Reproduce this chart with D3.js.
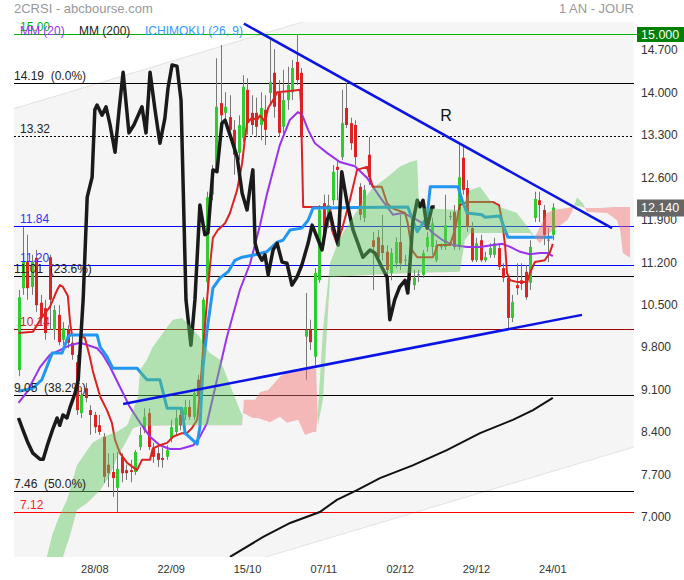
<!DOCTYPE html>
<html><head><meta charset="utf-8">
<script src="https://cdn.jsdelivr.net/npm/d3@7"></script>
<style>
body{margin:0;background:#fff}
svg{display:block;font-family:"Liberation Sans",Arial,Helvetica,sans-serif}
text{white-space:pre}
</style>
</head><body>
<svg id="chart" width="684" height="580"></svg>
<script>
// ---------------- DATA ----------------
const dateLabels = ["28/08","22/09","15/10","07/11","02/12","29/12","24/01"];
const dateIndex  = [17, 34, 51, 68, 85, 102, 119];

const open = [9.46,10.81,11.24,10.83,11.31,10.57,10.48,11.32,10.12,10.37,
9.96,10.12,9.91,9.59,8.75,9.16,8.80,8.72,8.55,8.36,
7.90,7.78,7.52,8.03,7.81,7.81,7.78,8.19,8.47,8.75,
8.18,8.09,8.01,8.03,8.34,8.44,8.72,8.72,8.85,8.69,
9.30,9.58,10.91,12.35,12.76,13.86,13.70,13.63,13.42,13.04,
13.29,14.08,13.70,13.70,13.50,13.75,14.03,14.36,14.03,13.47,
13.91,14.04,14.54,14.36,10.01,10.12,9.68,10.94,12.21,11.90,
12.26,12.81,12.97,13.78,13.53,13.50,12.48,11.97,13.01,11.60,
11.65,11.52,11.41,11.06,11.22,11.57,11.27,11.22,10.86,11.03,
11.03,11.49,11.49,11.27,11.49,11.49,12.00,12.07,11.49,12.96,
12.46,11.80,11.27,11.60,11.27,11.36,11.36,11.47,11.14,10.98,
10.32,10.86,10.94,11.08,10.90,11.97,12.26,12.10,11.60,11.69];
const high = [10.78,11.82,11.69,11.36,11.44,10.70,10.62,11.36,10.53,10.53,
10.25,10.20,10.04,9.71,9.13,9.25,8.88,8.77,8.72,8.42,
8.09,8.09,8.11,8.09,7.90,7.98,8.14,8.52,8.83,8.83,
8.26,8.19,8.18,8.22,8.64,8.80,8.83,8.97,8.97,9.16,
9.38,10.66,12.40,12.84,14.60,14.82,14.04,13.99,13.58,13.66,
14.32,14.27,13.99,13.95,14.04,13.99,14.90,14.75,14.24,14.41,
14.46,14.57,15.00,14.44,10.73,10.29,11.14,12.18,12.35,12.35,
12.84,12.92,14.08,14.19,13.62,13.58,12.54,12.51,13.30,11.74,
11.77,12.02,11.52,11.47,11.65,12.02,11.36,11.36,11.11,11.11,
11.44,11.74,11.97,11.60,11.55,12.35,12.07,12.18,13.17,13.17,
12.59,11.90,11.64,11.69,11.41,11.55,11.64,11.55,11.22,11.03,
10.70,11.22,11.22,11.19,11.60,12.40,12.40,12.18,11.80,12.21];
const low = [9.36,10.70,10.62,10.70,10.42,10.20,9.96,10.12,9.96,9.87,
9.87,9.82,9.63,8.72,8.67,8.93,8.39,8.42,8.39,7.60,
7.53,7.37,7.12,7.61,7.65,7.61,7.73,8.14,8.42,8.14,
7.93,7.86,7.85,7.98,8.27,8.39,8.47,8.64,8.64,8.64,
9.00,9.43,10.62,12.26,12.73,13.50,13.58,13.25,12.68,12.92,
13.22,13.34,13.34,13.30,13.25,13.17,13.83,13.62,13.30,13.34,
13.75,13.91,14.16,13.25,9.30,9.79,9.54,10.90,11.52,11.80,
12.18,12.26,12.92,13.45,13.09,12.84,11.93,11.90,12.51,10.78,
11.24,11.27,11.03,10.94,11.14,11.11,11.19,10.78,10.78,10.91,
10.98,11.41,11.36,11.24,11.44,11.44,11.93,11.44,11.44,12.35,
11.74,11.24,11.24,11.24,11.24,11.31,11.31,11.11,10.91,10.15,
10.25,10.70,10.78,10.62,10.78,11.90,11.90,11.52,11.24,11.60];
const close = [10.66,11.24,10.81,11.24,10.53,10.32,10.07,10.62,10.45,9.92,
10.15,9.91,9.71,8.80,9.05,9.00,8.72,8.52,8.44,7.70,
7.76,7.68,7.83,7.76,7.76,7.78,8.11,8.39,8.69,8.19,
8.03,7.98,7.98,8.14,8.52,8.67,8.55,8.85,8.69,9.08,
9.05,10.62,12.31,12.73,13.80,13.66,13.80,13.42,13.01,13.50,
14.13,13.53,13.50,13.47,13.78,13.42,14.21,13.80,13.37,13.91,
14.16,14.44,14.24,13.30,10.12,9.92,11.06,12.10,11.65,12.18,
12.73,12.76,13.53,13.50,13.20,12.97,12.02,12.43,12.64,11.49,
11.32,11.39,11.11,11.39,11.57,11.22,11.28,10.94,10.98,11.04,
11.39,11.65,11.88,11.52,11.50,11.85,12.00,11.49,12.64,12.43,
11.82,11.27,11.55,11.27,11.32,11.47,11.55,11.16,10.98,10.32,
10.58,10.81,10.88,10.66,11.49,12.28,12.18,11.69,11.61,12.14];

// indicator lines: [candle index, value]
const mm20 = [[0,8.92],[1.9,9.10],[4.8,9.51],[7,9.71],[9.2,9.79],[11.5,9.87],[13.7,9.91],[15.5,9.87],[17.5,9.82],[18.8,9.71],[20.4,9.51],[22.6,9.18],[24.8,8.85],[27.1,8.59],[29.3,8.36],[31.5,8.22],[33.7,8.16],[36,8.16],[38.9,8.22],[40.4,8.36],[42,8.59],[44.2,9.30],[46.4,10.00],[49.3,10.78],[51.6,11.22],[53.8,11.85],[55.3,12.35],[58.2,13.17],[60.4,13.58],[62.2,13.71],[63.1,13.68],[64.5,13.42],[66,13.20],[68.7,13.04],[71.6,12.89],[74.9,12.82],[77.6,12.63],[80.5,12.31],[83.4,12.02],[85.6,12.05],[87.9,11.97],[90.1,11.88],[92.3,11.72],[94.5,11.60],[96.8,11.52],[99.9,11.49],[102.8,11.49],[105.7,11.52],[107.7,11.54],[109.5,11.49],[111.7,11.41],[113.9,11.37],[116.1,11.39],[117.7,11.39],[119,11.34]];
const mm200 = [[47.1,6.38],[54.5,6.71],[60.5,6.94],[67.1,7.12],[70.9,7.32],[75.4,7.48],[80.5,7.68],[87.8,7.89],[95.4,8.14],[102.8,8.42],[110.1,8.64],[114.6,8.80],[119,9.00]];
const tenkan = [[0,10.07],[3.2,10.09],[5.2,10.33],[7,10.50],[8.6,10.78],[9.2,10.86],[9.9,10.83],[11,10.68],[11.5,10.24],[11.9,10.04],[13.7,10.04],[14.8,9.99],[15.9,9.67],[16.6,9.43],[18.2,9.02],[19.7,8.80],[20.8,8.59],[21.5,8.31],[22.6,8.09],[24.2,7.93],[26.4,7.81],[27.5,7.98],[29.3,7.98],[29.9,8.17],[31.5,8.22],[33.1,8.26],[34.4,8.36],[36.4,8.42],[37.5,8.42],[38.6,8.50],[39.8,8.64],[40.4,9.08],[41.1,9.79],[42,10.62],[42.7,11.22],[43.3,11.64],[44.4,11.77],[46,11.88],[47.1,12.05],[48.7,12.43],[49.8,12.87],[50.4,13.25],[50.9,13.53],[52,13.62],[53.1,13.58],[53.8,13.66],[54.9,13.55],[55.6,13.78],[56.7,13.91],[57.6,14.04],[60.5,14.06],[62.7,14.08],[62.9,13.86],[63.4,12.15],[69.4,12.15],[69.8,11.77],[70.9,11.55],[72,11.77],[73.8,12.26],[75.4,12.76],[77.6,12.81],[78.3,12.63],[78.9,12.48],[80.9,12.48],[82.1,12.21],[83.2,12.13],[86.1,12.05],[86.7,11.88],[87.6,11.44],[88.8,11.32],[92.3,11.32],[93.4,11.52],[96.1,11.52],[97.2,11.77],[98.3,12.18],[99.9,12.23],[105.7,12.23],[107,12.18],[107.7,11.93],[108.4,11.49],[108.8,11.06],[109.5,10.94],[111.2,10.91],[113.3,10.91],[113.9,11.06],[115,11.24],[117.2,11.27],[118.3,11.39],[119,11.54]];
const kijun = [[0,9.11],[3.2,9.16],[5.2,9.30],[7.5,9.74],[9.7,9.74],[11,10.00],[11.5,10.04],[17.5,10.04],[18.2,9.84],[19.7,9.68],[21,9.49],[26.4,9.49],[28.6,9.30],[31.5,9.30],[33.1,8.83],[36.4,8.83],[37.1,8.42],[39.8,8.24],[40.4,8.52],[41.1,9.51],[42,10.12],[43.3,10.81],[44.9,10.98],[46.7,11.08],[48.2,11.27],[49.8,11.32],[52.7,11.36],[55.3,11.41],[57.6,11.57],[58.9,11.60],[60.5,11.77],[63.1,11.80],[64.5,11.93],[65.6,12.13],[86.7,12.15],[88.8,11.74],[91,11.98],[91.7,12.48],[97.9,12.48],[98.8,12.26],[99.9,12.05],[103.2,12.02],[103.9,11.98],[107.2,12.00],[109,11.65],[119,11.65]];
const chikou = [[0,8.67],[1,8.47],[2.1,8.26],[3.2,8.09],[4.8,7.99],[5.5,7.99],[6.6,8.26],[7.7,8.50],[8.6,8.67],[9.2,8.55],[9.9,8.72],[10.8,8.67],[11.5,8.85],[12.6,9.08],[13.3,9.30],[14.4,10.62],[15.3,12.31],[16.4,12.64],[17,13.75],[17.5,13.83],[18.6,13.66],[19.5,13.80],[20.4,13.50],[21.5,13.05],[22.4,13.75],[23.3,14.37],[24.6,13.37],[25.7,13.50],[27.5,13.80],[28.4,13.37],[29.3,14.37],[30.4,13.75],[31.5,13.20],[32.6,13.61],[33.3,14.11],[34.2,14.49],[35.3,14.47],[36.2,13.91],[37.3,10.62],[38.4,9.87],[39.3,10.62],[40.4,12.18],[41.5,11.69],[42.2,11.72],[43.3,12.76],[44.2,12.73],[45.3,13.53],[46,13.58],[47.5,13.25],[48.7,12.97],[49.8,12.38],[50.9,12.10],[51.6,12.48],[52.2,12.76],[52.7,11.55],[53.3,11.39],[54.2,11.27],[54.9,11.36],[55.6,11.03],[56.7,11.44],[57.6,11.55],[58.7,11.24],[59.8,11.22],[60.9,10.86],[62,10.99],[63.1,11.19],[64.5,11.55],[65.4,11.85],[66.5,11.65],[67.6,11.44],[68.7,11.93],[69.4,12.05],[70,11.85],[71.2,11.52],[72,12.73],[73.2,12.21],[74.5,11.77],[75.6,11.55],[76.7,11.32],[78.3,11.44],[79.4,11.39],[80.9,11.16],[82.1,10.99],[82.7,10.29],[83.8,10.62],[84.9,10.83],[86.1,10.94],[86.7,10.73],[87.2,11.22],[87.8,11.88],[88.8,12.26],[89.4,12.15],[90.1,12.26],[91,11.80],[92.1,12.15],[92.7,12.15]];
const senkouA = [[4.8,5.83],[6.3,6.38],[7.5,6.74],[9.2,7.07],[10.8,7.32],[13,7.89],[15.3,8.14],[16.6,8.27],[18.8,8.36],[21.9,8.44],[24.2,8.55],[25.5,8.80],[26.6,9.02],[27.1,9.46],[28.6,9.63],[29.9,9.84],[31.5,10.00],[33.1,10.17],[34.4,10.29],[36.4,10.32],[37.5,10.24],[40.4,10.00],[41.1,9.91],[42.6,9.74],[44.9,9.63],[46.4,9.35],[47.8,9.08],[49.3,8.80],[49.8,8.72],[50.2,8.75],[52.2,8.67],[53.3,8.67],[56,8.60],[58.2,8.69],[59.8,8.59],[62.3,8.64],[63.8,8.39],[65.6,8.44],[66.3,8.44],[66.7,8.80],[67.8,10.12],[69.4,11.22],[71.6,11.65],[74.5,11.98],[76.7,12.26],[78.9,12.46],[82.1,12.64],[84.9,12.81],[87.2,12.89],[88.8,12.92],[89.2,12.13],[98.3,12.10],[100.6,12.43],[102.8,12.48],[105,12.26],[107.2,12.15],[111,12.05],[113.9,11.77],[115,11.65],[116.1,11.55],[117.7,11.69],[122.2,11.93],[123.3,12.07],[124.4,12.31],[125.7,12.21],[126.6,12.07],[131.1,12.05],[133.3,11.93],[134,11.77],[134.6,11.39],[136.2,11.31]];
const senkouB = [[4.8,5.34],[9.9,6.38],[11.5,6.74],[13,7.15],[15.3,7.27],[18.2,7.48],[20.4,7.73],[21.9,8.01],[24.2,8.31],[25.5,8.50],[27.1,8.54],[37.5,8.55],[49.8,8.55],[50.2,8.97],[52.7,8.97],[53.8,9.10],[55.6,9.13],[58.2,9.35],[60.5,9.46],[66.3,9.49],[66.7,8.55],[67.8,8.97],[69.4,10.99],[78.9,11.03],[87.9,11.06],[98.3,11.08],[99.4,11.60],[100.6,11.72],[113.9,11.72],[115,11.65],[116.1,11.82],[117.7,12.05],[119,12.10],[122.2,12.13],[124.4,12.17],[126.6,12.13],[129.5,12.13],[132.4,12.15],[136.2,12.15]];

// horizontal levels
const levelValues = [15.00, 14.19, 13.32, 11.84, 11.20, 11.01, 10.14, 9.05, 7.46, 7.12];
const levelLabels = ["15.00", "14.19  (0.0%)", "13.32", "11.84", "11.20", "11.01  (23.6%)", "10.14", "9.05  (38.2%)", "7.46  (50.0%)", "7.12"];
// trend lines and channel [index, value]
const trendUpper = [[50.2,15.17],[132.2,11.80]];
const trendLower = [[23.3,8.90],[125.5,10.37]];
const channelUpper = [[-1,13.77],[137,16.84]];
const channelLower = [[-1,5.14],[137,8.19]];
const yTickValues = [7.0,7.7,8.4,9.1,9.8,10.5,11.2,11.9,12.6,13.3,14.0,14.7];
const lastPrice = 12.14;
const topLevel = 15.00;

// ---------------- DRAW ----------------
const svg = d3.select("#chart");
const L = 14, R = 634, T = 22, B = 557;
const X = d3.scaleLinear().domain([0,119]).range([18.5,552.8]);
const Y = d3.scaleLinear().domain([7,15]).range([519.3,34]);

svg.append("rect").attr("width",684).attr("height",580).attr("fill","#fff");
const defs = svg.append("defs");
defs.append("clipPath").attr("id","plot").append("rect").attr("x",L).attr("y",T).attr("width",R-L).attr("height",B-T);

const g = svg.append("g").attr("clip-path","url(#plot)");
const line = d3.line().x(d=>X(d[0])).y(d=>Y(d[1]));

// channel
const chPoly = channelLower.concat(channelUpper.slice().reverse());
g.append("path").attr("d", line(chPoly)+"Z").attr("fill","#f5f5f5");
[channelUpper, channelLower].forEach(c=>g.append("path").attr("d",line(c)).attr("stroke","#e2e2e2").attr("stroke-width",1).attr("fill","none"));

// level lines
const levelStyle = {
  "15.00":["#00b400",null,"#00b400",20], "14.19  (0.0%)":["#000",null,"#222",14], "13.32":["#000","2,2","#222",20],
  "11.84":["#0000ff",null,"#3333ff",20], "11.20":["#0000ff",null,"#3333ff",20], "11.01  (23.6%)":["#000",null,"#222",14],
  "10.14":["#a00000",null,"#cc2222",20], "9.05  (38.2%)":["#000",null,"#222",14], "7.46  (50.0%)":["#000",null,"#222",14],
  "7.12":["#ff0000",null,"#ff2222",20]
};
levelValues.forEach((v,k)=>{
  const st = levelStyle[levelLabels[k]];
  const yy = Math.round(Y(v))+0.5;
  g.append("line").attr("x1",L).attr("x2",R).attr("y1",yy).attr("y2",yy)
    .attr("stroke",st[0]).attr("stroke-width",1.2).attr("stroke-dasharray",st[1]);
});

// MM200
g.append("path").attr("d",line(mm200)).attr("fill","none").attr("stroke","#111").attr("stroke-width",2);

// candles
const candles = g.append("g");
open.forEach((o,i)=>{
  const c = close[i], h = high[i], l = low[i];
  const xx = Math.round(X(i))+0.5;
  candles.append("line").attr("x1",xx).attr("x2",xx).attr("y1",Y(h)).attr("y2",Y(l)).attr("stroke","#777").attr("stroke-width",1);
  const up = c >= o;
  const col = Math.abs(c-o) < 0.015 ? "#777" : (up ? "#2fcc2f" : "#dd2222");
  const y1 = Y(Math.max(o,c)), y2 = Y(Math.min(o,c));
  candles.append("rect").attr("x",xx-1.5).attr("width",3).attr("y",y1).attr("height",Math.max(1,y2-y1)).attr("fill",col);
});

// indicators
g.append("path").attr("d",line(mm20)).attr("fill","none").attr("stroke","#9933ee").attr("stroke-width",2);
g.append("path").attr("d",line(tenkan)).attr("fill","none").attr("stroke","#dd2222").attr("stroke-width",2).attr("stroke-linejoin","round");
g.append("path").attr("d",line(kijun)).attr("fill","none").attr("stroke","#2196f3").attr("stroke-width",3).attr("stroke-linejoin","round");
g.append("path").attr("d",line(chikou)).attr("fill","none").attr("stroke","#1a1a1a").attr("stroke-width",3.5).attr("stroke-linejoin","round");

// cloud
const between = line(senkouA.concat(senkouB.slice().reverse()))+"Z";
const bx0 = X(senkouB[0][0]), bx1 = X(senkouB[senkouB.length-1][0]);
defs.append("clipPath").attr("id","aboveB").append("path").attr("d", line(senkouB)+`L${bx1},0L${bx0},0Z`);
defs.append("clipPath").attr("id","belowB").append("path").attr("d", line(senkouB)+`L${bx1},600L${bx0},600Z`);
g.append("g").attr("clip-path","url(#aboveB)").append("path").attr("d",between).attr("fill","rgba(95,200,95,0.45)");
g.append("g").attr("clip-path","url(#belowB)").append("path").attr("d",between).attr("fill","rgba(245,110,110,0.45)");

// trend lines
[trendUpper, trendLower].forEach(t=>g.append("path").attr("d",line(t)).attr("stroke","#0a14e6").attr("stroke-width",2.5).attr("fill","none"));

// level labels
levelValues.forEach((v,k)=>{
  const st = levelStyle[levelLabels[k]];
  svg.append("text").attr("x",st[3]).attr("y",Y(v)-3).attr("font-size",12).attr("fill",st[2]).text(levelLabels[k]);
});

svg.append("text").attr("x",446).attr("y",121).attr("text-anchor","middle").attr("font-size",16).attr("fill","#111").text("R");

// right axis
yTickValues.forEach(v=>{
  svg.append("text").attr("x",641).attr("y",Y(v)+2).attr("font-size",12).attr("fill","#333").text(v.toFixed(3));
});
svg.append("line").attr("x1",R).attr("x2",637).attr("y1",Math.round(Y(topLevel))+0.5).attr("y2",Math.round(Y(topLevel))+0.5).attr("stroke","#00b400");
svg.append("rect").attr("x",637).attr("y",Y(topLevel)-7).attr("width",47).attr("height",15).attr("fill","#008000");
svg.append("text").attr("x",641).attr("y",Y(topLevel)+5).attr("font-size",12.5).attr("fill","#fff").text(topLevel.toFixed(3));
svg.append("rect").attr("x",637).attr("y",Y(lastPrice)-8).attr("width",47).attr("height",17).attr("fill","#666");
svg.append("text").attr("x",641).attr("y",Y(lastPrice)+5).attr("font-size",12.5).attr("fill","#fff").text(lastPrice.toFixed(3));

// date labels
dateLabels.forEach((d,k)=>{
  svg.append("text").attr("x",X(dateIndex[k])).attr("y",573).attr("text-anchor","middle").attr("font-size",11).attr("fill","#333").text(d);
});

// title + legend
svg.append("text").attr("x",14).attr("y",13).attr("font-size",13).attr("fill","#999").text("2CRSI - abcbourse.com");
svg.append("text").attr("x",634).attr("y",13).attr("text-anchor","end").attr("font-size",13).attr("fill","#999").text("1 AN - JOUR");
svg.append("text").attr("x",20).attr("y",35).attr("font-size",12).attr("fill","#9933ee").text("MM (20)");
svg.append("text").attr("x",79).attr("y",35).attr("font-size",12).attr("fill","#222").text("MM (200)");
svg.append("text").attr("x",145).attr("y",35).attr("font-size",12).attr("fill","#3399ff").text("ICHIMOKU (26, 9)");
</script>
</body></html>
